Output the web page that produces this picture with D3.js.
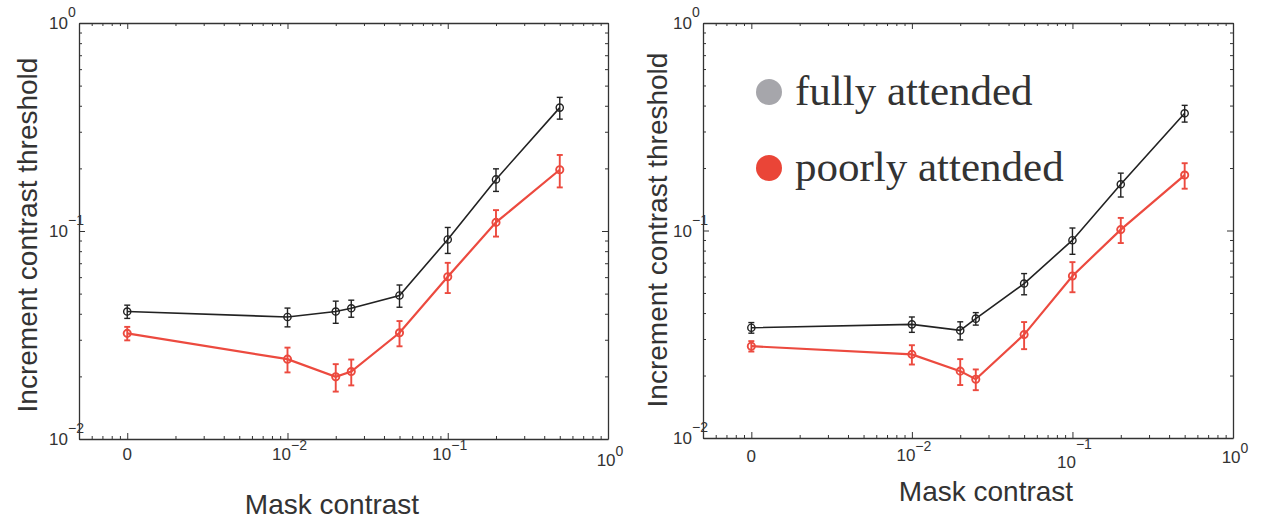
<!DOCTYPE html>
<html>
<head>
<meta charset="utf-8">
<script src="https://cdn.jsdelivr.net/npm/d3@7"></script>
<style>
  html, body { margin: 0; padding: 0; background: #fff; }
  svg { display: block; }
  .tick line { stroke: #333; stroke-width: 1; }
  .domain { stroke: #333; stroke-width: 1.3; }
</style>
</head>
<body>
<svg id="chart" width="1261" height="521"></svg>
<script>
// Mask contrast levels; contrast 0 is shown at the 10^-3 position of the log axis
const maskContrast = [0, 0.01, 0.02, 0.025, 0.05, 0.1, 0.2, 0.5];
const zeroPosition = 1e-3;

// Increment contrast thresholds (means and error half-widths)
const leftFully      = [0.041, 0.0386, 0.041, 0.0425, 0.049, 0.091, 0.177, 0.392];
const leftFullyErr   = [0.003, 0.004, 0.005, 0.004, 0.006, 0.013, 0.022, 0.047];
const leftPoorly     = [0.0322, 0.0242, 0.0199, 0.0211, 0.0324, 0.0603, 0.110, 0.197];
const leftPoorlyErr  = [0.0024, 0.0033, 0.003, 0.003, 0.0045, 0.010, 0.016, 0.035];

const rightFully     = [0.034, 0.0353, 0.033, 0.0376, 0.0555, 0.0898, 0.167, 0.367];
const rightFullyErr  = [0.002, 0.003, 0.0033, 0.0026, 0.0065, 0.013, 0.022, 0.034];
const rightPoorly    = [0.0277, 0.0253, 0.021, 0.0192, 0.0315, 0.0604, 0.101, 0.185];
const rightPoorlyErr = [0.0016, 0.0027, 0.003, 0.0022, 0.0047, 0.010, 0.014, 0.026];

// Axis ticks and labels
const xMajorTicks = [1e-3, 1e-2, 1e-1, 1];
const xTickBase   = ["0", "10", "10", "10"];
const xTickExp    = ["", "\u22122", "\u22121", "0"];
const yMajorTicks = [1e-2, 1e-1, 1];
const yTickBase   = ["10", "10", "10"];
const yTickExp    = ["\u22122", "\u22121", "0"];

const legendLabels = ["fully attended", "poorly attended"];
const xTitle = "Mask contrast";
const yTitle = "Increment contrast threshold";

const colors = { fully: "#222", poorly: "#ec4a3f", legendFully: "#a6a6ab", legendPoorly: "#ea4537" };
const sans = "Liberation Sans, Arial, Helvetica, sans-serif";

const svg = d3.select("#chart");

function minorTicks(lo, hi) {
  const out = [];
  for (let e = Math.floor(Math.log10(lo)); e < Math.ceil(Math.log10(hi)); e++) {
    for (let m = 2; m <= 9; m++) {
      const v = m * Math.pow(10, e);
      if (v >= lo * 0.999 && v <= hi * 1.001) out.push(v);
    }
  }
  return out;
}

function drawPanel(box, fully, fullyErr, poorly, poorlyErr, opts) {
  const x = d3.scaleLog().domain([5e-4, 1]).range([box.x0, box.x1]);
  const y = d3.scaleLog().domain([0.01, 1]).range([box.y1, box.y0]);
  const g = svg.append("g");

  const xMinor = minorTicks(5e-4, 1).filter(v => !xMajorTicks.some(m => Math.abs(m - v) < 1e-12));
  const yMinor = minorTicks(0.01, 1).filter(v => !yMajorTicks.some(m => Math.abs(m - v) < 1e-12));

  // Box axes, ticks pointing inward on all four sides
  const axes = [
    { gen: d3.axisBottom(x), t: `translate(0,${box.y1})`, major: xMajorTicks, minor: xMinor },
    { gen: d3.axisTop(x),    t: `translate(0,${box.y0})`, major: xMajorTicks, minor: xMinor },
    { gen: d3.axisLeft(y),   t: `translate(${box.x0},0)`, major: yMajorTicks, minor: yMinor },
    { gen: d3.axisRight(y),  t: `translate(${box.x1},0)`, major: yMajorTicks, minor: yMinor }
  ];
  axes.forEach(a => {
    g.append("g").attr("transform", a.t)
      .call(a.gen.tickValues(a.major).tickSizeInner(-6).tickSizeOuter(0).tickFormat(""));
    g.append("g").attr("transform", a.t)
      .call(a.gen.tickValues(a.minor).tickSizeInner(-3).tickSizeOuter(0).tickFormat(""))
      .select(".domain").remove();
  });

  // X tick labels
  xMajorTicks.forEach((v, i) => {
    const t = g.append("text")
      .attr("x", x(v) + (xTickExp[i] ? 2 : 0))
      .attr("y", box.y1 + 21 + (opts.xLabelDrop[i] || 0))
      .attr("text-anchor", "middle")
      .attr("font-family", sans)
      .attr("font-size", 17).attr("fill", "#333");
    t.append("tspan").text(xTickBase[i]);
    if (xTickExp[i]) {
      t.append("tspan").attr("dy", -10 - (opts.xExpLift[i] || 0)).attr("font-size", 14).text(xTickExp[i]);
    }
  });

  // Y tick labels
  yMajorTicks.forEach((v, i) => {
    g.append("text")
      .attr("x", box.x0 - 11).attr("y", y(v) + 6)
      .attr("text-anchor", "end")
      .attr("font-family", sans)
      .attr("font-size", 17).attr("fill", "#333")
      .text(yTickBase[i]);
    g.append("text")
      .attr("x", box.x0 - 11).attr("y", y(v) - 6)
      .attr("text-anchor", "start")
      .attr("font-family", sans)
      .attr("font-size", 14).attr("fill", "#333")
      .text(yTickExp[i]);
  });

  // Axis titles
  g.append("text")
    .attr("x", opts.xTitleX).attr("y", opts.xTitleY)
    .attr("text-anchor", "middle")
    .attr("font-family", sans)
    .attr("font-size", 28).attr("fill", "#333")
    .text(xTitle);
  g.append("text")
    .attr("transform", `translate(${opts.yTitleX},${opts.yTitleY}) rotate(-90)`)
    .attr("text-anchor", "middle")
    .attr("font-family", sans)
    .attr("font-size", 28).attr("fill", "#333")
    .text(yTitle);

  const px = c => x(c === 0 ? zeroPosition : c);

  function series(vals, errs, color, lw, mlw) {
    const pts = maskContrast.map((c, i) => ({ c, v: vals[i], e: errs[i] }));
    const line = d3.line().x(d => px(d.c)).y(d => y(d.v));
    g.append("path").datum(pts)
      .attr("d", line).attr("fill", "none")
      .attr("stroke", color).attr("stroke-width", lw);
    const eb = g.append("g").attr("stroke", color).attr("stroke-width", mlw).attr("fill", "none");
    pts.forEach(d => {
      const cx = px(d.c), yt = y(d.v + d.e), yb = y(d.v - d.e);
      eb.append("line").attr("x1", cx).attr("x2", cx).attr("y1", yt).attr("y2", yb);
      eb.append("line").attr("x1", cx - 3).attr("x2", cx + 3).attr("y1", yt).attr("y2", yt);
      eb.append("line").attr("x1", cx - 3).attr("x2", cx + 3).attr("y1", yb).attr("y2", yb);
      eb.append("circle").attr("cx", cx).attr("cy", y(d.v)).attr("r", 3.6);
    });
  }
  series(fully, fullyErr, colors.fully, 1.6, 1.4);
  series(poorly, poorlyErr, colors.poorly, 2.2, 1.9);
}

drawPanel({ x0: 79, x1: 608, y0: 23, y1: 439 },
  leftFully, leftFullyErr, leftPoorly, leftPoorlyErr,
  { xTitleX: 332, xTitleY: 514, yTitleX: 37, yTitleY: 235,
    xLabelDrop: [0, 0, 0, 6], xExpLift: [0, 0, 0, 0] });

drawPanel({ x0: 703, x1: 1233, y0: 23, y1: 438 },
  rightFully, rightFullyErr, rightPoorly, rightPoorlyErr,
  { xTitleX: 986, xTitleY: 501, yTitleX: 667, yTitleY: 230,
    xLabelDrop: [3, 2, 9, 4], xExpLift: [0, 0, 9, 0] });

// Legend inside the right panel
const legendColors = [colors.legendFully, colors.legendPoorly];
const legendY = [92, 168];
legendLabels.forEach((lab, i) => {
  svg.append("circle")
    .attr("cx", 769).attr("cy", legendY[i]).attr("r", 13)
    .attr("fill", legendColors[i]);
  svg.append("text")
    .attr("x", 795).attr("y", legendY[i] + 13)
    .attr("font-family", "Liberation Serif, Times New Roman, serif")
    .attr("font-size", 43).attr("fill", "#333")
    .text(lab);
});
</script>
</body>
</html>
